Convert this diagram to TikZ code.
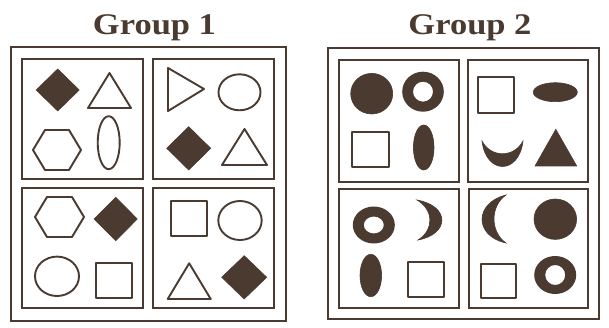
\documentclass[tikz,border=0pt]{standalone}
\usepackage{fontspec}
\setmainfont{Liberation Serif}
\usepackage{xcolor}
\usepackage{tikz}
\definecolor{shpInk}{HTML}{4A3A2F}

\tikzset{
  frame/.style={draw=shpInk,line width=2.1pt},
  outl/.style={draw=shpInk,line width=1.9pt,line join=round},
  solid/.style={fill=shpInk,draw=shpInk,line width=0.6pt},
  ring/.style={fill=shpInk,even odd rule},
  grptitle/.style={anchor=base,text=shpInk,font=\bfseries\fontsize{30}{30}\selectfont,inner sep=0pt}
}

\begin{document}
\begin{tikzpicture}[x=1pt,y=-1pt]
  \useasboundingbox (0,0) rectangle (609,328);

  % titles
  \node[grptitle] (g1title) at (154.5,35) {\scalebox{1.15}[1]{Group 1}};
  \node[grptitle] (g2title) at (470,35) {\scalebox{1.15}[1]{Group 2}};

  % group 1 frames
  \draw[frame] (11,47) rectangle (286,321);
  \draw[frame] (22,59) rectangle (143,179);
  \draw[frame] (153,59) rectangle (274,179);
  \draw[frame] (22,188) rectangle (143,308);
  \draw[frame] (153,188) rectangle (274,308);

  % group 1, top left
  \fill[solid] (36.2,90) -- (57.7,69) -- (79.2,90) -- (57.7,111) -- cycle;
  \draw[outl] (88,108) -- (109.5,73) -- (131,108) -- cycle;
  \draw[outl] (33,150) -- (45,130) -- (69,130) -- (81,150) -- (69,170) -- (45,170) -- cycle;
  \draw[outl] (108.7,142.7) ellipse [x radius=11, y radius=26.5];

  % group 1, top right
  \draw[outl] (168,68) -- (204,89) -- (168,111) -- cycle;
  \draw[outl] (239.5,92.3) ellipse [x radius=21, y radius=18];
  \fill[solid] (166.7,148.3) -- (188.7,126.7) -- (210.7,148.3) -- (188.7,170) -- cycle;
  \draw[outl] (222,165) -- (244.5,129) -- (267,165) -- cycle;

  % group 1, bottom left
  \draw[outl] (35,217) -- (47,197) -- (72,197) -- (84,217) -- (72,237) -- (47,237) -- cycle;
  \fill[solid] (94,219) -- (115.7,197.3) -- (137.3,219) -- (115.7,240.7) -- cycle;
  \draw[outl] (57,276.3) ellipse [x radius=22, y radius=19.7];
  \draw[outl] (96,263) rectangle (131.7,298.3);

  % group 1, bottom right
  \draw[outl] (171,201) rectangle (206.7,236);
  \draw[outl] (240,220.5) ellipse [x radius=21.7, y radius=19.5];
  \draw[outl] (167.7,299) -- (189.2,263.3) -- (210.7,299) -- cycle;
  \fill[solid] (221.7,277.3) -- (244.2,255.7) -- (266.7,277.3) -- (244.2,299) -- cycle;

  % group 2 frames
  \draw[frame] (328,48) rectangle (599,319);
  \draw[frame] (339,60) rectangle (459,182);
  \draw[frame] (468,60) rectangle (588,182);
  \draw[frame] (339,189) rectangle (459,308);
  \draw[frame] (469,189) rectangle (588,308);

  % group 2, top left
  \fill[solid] (371.7,93.7) ellipse [x radius=21, y radius=20.3];
  \fill[ring] (423,91.7) ellipse [x radius=20.8, y radius=20] (423,91.7) circle [radius=10];
  \draw[outl] (352.3,131.7) rectangle (389,166.7);
  \fill[solid] (423.7,147.5) ellipse [x radius=10.3, y radius=22.5];

  % group 2, top right
  \draw[outl] (478.3,77.3) rectangle (514,113.3);
  \fill[solid] (555.3,92.2) ellipse [x radius=22, y radius=9.5];
  \fill[solid] (482,141) .. controls (486,175) and (519,175) .. (523,141)
    .. controls (514,158) and (491,158) .. (482,141) -- cycle;
  \fill[solid] (535,166) -- (555.8,129.3) -- (576.7,166) -- cycle;

  % group 2, bottom left
  \fill[ring] (373.8,225) ellipse [x radius=21, y radius=18.5] (373.8,225) ellipse [x radius=10, y radius=8.5];
  \fill[solid] (417,200) .. controls (450,206) and (450,234) .. (418,240)
    .. controls (434,230) and (434,210) .. (417,200) -- cycle;
  \fill[solid] (370.8,275.5) ellipse [x radius=10.8, y radius=21.2];
  \draw[outl] (408.3,261.7) rectangle (444,296.7);

  % group 2, bottom right
  \fill[solid] (506,195) .. controls (474,203) and (474,236) .. (506,243)
    .. controls (490,232) and (490,206) .. (506,195) -- cycle;
  \fill[solid] (555.3,219.2) ellipse [x radius=21.3, y radius=20.2];
  \draw[outl] (481,264.3) rectangle (516,298.3);
  \fill[ring] (555.2,275) ellipse [x radius=21, y radius=19] (555.2,275) circle [radius=10];
\end{tikzpicture}
\end{document}
